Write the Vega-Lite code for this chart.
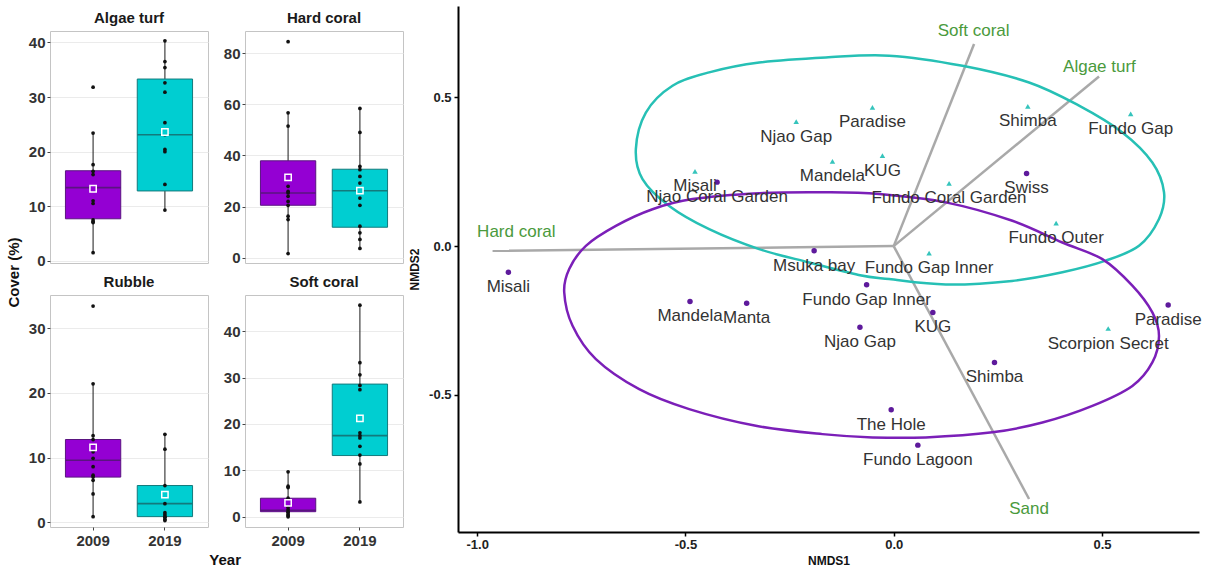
{
  "$schema": "https://vega.github.io/schema/vega-lite/v6.json",
  "background": "white",
  "padding": {"left": 6, "top": 6, "right": 6, "bottom": 2},
  "config": {
    "font": "Liberation Sans",
    "view": {"stroke": "#c4c4c4"}
  },
  "datasets": {
    "boxes": [
      {"cat": "Algae turf", "year": "2009", "lower": 1.5, "q1": 7.7, "median": 13.4, "q3": 16.5, "upper": 23.4, "mean": 13.2},
      {"cat": "Algae turf", "year": "2019", "lower": 9.3, "q1": 12.8, "median": 23.1, "q3": 33.3, "upper": 40.3, "mean": 23.6},
      {"cat": "Hard coral", "year": "2009", "lower": 1.6, "q1": 20.5, "median": 25.3, "q3": 37.9, "upper": 56.7, "mean": 31.4},
      {"cat": "Hard coral", "year": "2019", "lower": 3.6, "q1": 11.9, "median": 26.2, "q3": 34.6, "upper": 58.4, "mean": 26.2},
      {"cat": "Rubble", "year": "2009", "lower": 0.9, "q1": 7.0, "median": 9.6, "q3": 12.8, "upper": 21.4, "mean": 11.6},
      {"cat": "Rubble", "year": "2019", "lower": 0.5, "q1": 0.9, "median": 2.9, "q3": 5.7, "upper": 13.6, "mean": 4.3},
      {"cat": "Soft coral", "year": "2009", "lower": 0.0, "q1": 1.1, "median": 1.4, "q3": 4.0, "upper": 9.7, "mean": 3.0},
      {"cat": "Soft coral", "year": "2019", "lower": 3.2, "q1": 13.2, "median": 17.5, "q3": 28.6, "upper": 45.6, "mean": 21.2}
    ],
    "pts": [
      {"cat": "Algae turf", "year": "2009", "v": 31.8}, {"cat": "Algae turf", "year": "2009", "v": 23.4}, {"cat": "Algae turf", "year": "2009", "v": 17.6}, {"cat": "Algae turf", "year": "2009", "v": 16.4}, {"cat": "Algae turf", "year": "2009", "v": 15.8}, {"cat": "Algae turf", "year": "2009", "v": 13.4}, {"cat": "Algae turf", "year": "2009", "v": 13.0}, {"cat": "Algae turf", "year": "2009", "v": 11.0}, {"cat": "Algae turf", "year": "2009", "v": 10.5}, {"cat": "Algae turf", "year": "2009", "v": 7.5}, {"cat": "Algae turf", "year": "2009", "v": 7.2}, {"cat": "Algae turf", "year": "2009", "v": 7.0}, {"cat": "Algae turf", "year": "2009", "v": 1.5},
      {"cat": "Algae turf", "year": "2019", "v": 40.3}, {"cat": "Algae turf", "year": "2019", "v": 36.5}, {"cat": "Algae turf", "year": "2019", "v": 35.4}, {"cat": "Algae turf", "year": "2019", "v": 32.6}, {"cat": "Algae turf", "year": "2019", "v": 30.9}, {"cat": "Algae turf", "year": "2019", "v": 25.3}, {"cat": "Algae turf", "year": "2019", "v": 23.1}, {"cat": "Algae turf", "year": "2019", "v": 20.4}, {"cat": "Algae turf", "year": "2019", "v": 20.0}, {"cat": "Algae turf", "year": "2019", "v": 14.0}, {"cat": "Algae turf", "year": "2019", "v": 9.3},
      {"cat": "Hard coral", "year": "2009", "v": 84.5}, {"cat": "Hard coral", "year": "2009", "v": 56.7}, {"cat": "Hard coral", "year": "2009", "v": 51.5}, {"cat": "Hard coral", "year": "2009", "v": 32.0}, {"cat": "Hard coral", "year": "2009", "v": 27.9}, {"cat": "Hard coral", "year": "2009", "v": 25.9}, {"cat": "Hard coral", "year": "2009", "v": 25.3}, {"cat": "Hard coral", "year": "2009", "v": 24.0}, {"cat": "Hard coral", "year": "2009", "v": 22.0}, {"cat": "Hard coral", "year": "2009", "v": 20.5}, {"cat": "Hard coral", "year": "2009", "v": 16.2}, {"cat": "Hard coral", "year": "2009", "v": 14.9}, {"cat": "Hard coral", "year": "2009", "v": 1.6},
      {"cat": "Hard coral", "year": "2019", "v": 58.4}, {"cat": "Hard coral", "year": "2019", "v": 49.0}, {"cat": "Hard coral", "year": "2019", "v": 35.7}, {"cat": "Hard coral", "year": "2019", "v": 34.4}, {"cat": "Hard coral", "year": "2019", "v": 31.8}, {"cat": "Hard coral", "year": "2019", "v": 29.2}, {"cat": "Hard coral", "year": "2019", "v": 23.3}, {"cat": "Hard coral", "year": "2019", "v": 20.5}, {"cat": "Hard coral", "year": "2019", "v": 12.3}, {"cat": "Hard coral", "year": "2019", "v": 9.7}, {"cat": "Hard coral", "year": "2019", "v": 7.1}, {"cat": "Hard coral", "year": "2019", "v": 3.6},
      {"cat": "Rubble", "year": "2009", "v": 33.4}, {"cat": "Rubble", "year": "2009", "v": 21.4}, {"cat": "Rubble", "year": "2009", "v": 13.4}, {"cat": "Rubble", "year": "2009", "v": 12.8}, {"cat": "Rubble", "year": "2009", "v": 10.9}, {"cat": "Rubble", "year": "2009", "v": 9.9}, {"cat": "Rubble", "year": "2009", "v": 8.6}, {"cat": "Rubble", "year": "2009", "v": 7.3}, {"cat": "Rubble", "year": "2009", "v": 7.0}, {"cat": "Rubble", "year": "2009", "v": 6.5}, {"cat": "Rubble", "year": "2009", "v": 4.4}, {"cat": "Rubble", "year": "2009", "v": 0.9},
      {"cat": "Rubble", "year": "2019", "v": 13.6}, {"cat": "Rubble", "year": "2019", "v": 11.3}, {"cat": "Rubble", "year": "2019", "v": 5.7}, {"cat": "Rubble", "year": "2019", "v": 4.2}, {"cat": "Rubble", "year": "2019", "v": 2.9}, {"cat": "Rubble", "year": "2019", "v": 1.5}, {"cat": "Rubble", "year": "2019", "v": 1.2}, {"cat": "Rubble", "year": "2019", "v": 0.9}, {"cat": "Rubble", "year": "2019", "v": 0.8}, {"cat": "Rubble", "year": "2019", "v": 0.5}, {"cat": "Rubble", "year": "2019", "v": 0.3},
      {"cat": "Soft coral", "year": "2009", "v": 9.7}, {"cat": "Soft coral", "year": "2009", "v": 6.6}, {"cat": "Soft coral", "year": "2009", "v": 6.3}, {"cat": "Soft coral", "year": "2009", "v": 4.0}, {"cat": "Soft coral", "year": "2009", "v": 3.1}, {"cat": "Soft coral", "year": "2009", "v": 2.7}, {"cat": "Soft coral", "year": "2009", "v": 2.0}, {"cat": "Soft coral", "year": "2009", "v": 1.5}, {"cat": "Soft coral", "year": "2009", "v": 1.1}, {"cat": "Soft coral", "year": "2009", "v": 0.9}, {"cat": "Soft coral", "year": "2009", "v": 0.5}, {"cat": "Soft coral", "year": "2009", "v": 0.2}, {"cat": "Soft coral", "year": "2009", "v": 0.0},
      {"cat": "Soft coral", "year": "2019", "v": 45.6}, {"cat": "Soft coral", "year": "2019", "v": 33.2}, {"cat": "Soft coral", "year": "2019", "v": 30.6}, {"cat": "Soft coral", "year": "2019", "v": 28.3}, {"cat": "Soft coral", "year": "2019", "v": 27.4}, {"cat": "Soft coral", "year": "2019", "v": 18.1}, {"cat": "Soft coral", "year": "2019", "v": 17.5}, {"cat": "Soft coral", "year": "2019", "v": 17.0}, {"cat": "Soft coral", "year": "2019", "v": 15.2}, {"cat": "Soft coral", "year": "2019", "v": 13.3}, {"cat": "Soft coral", "year": "2019", "v": 11.4}, {"cat": "Soft coral", "year": "2019", "v": 3.2}
    ],
    "sites": [
      {"site": "Njao Gap", "year": "2019", "x": -0.234, "y": 0.418},
      {"site": "Paradise", "year": "2019", "x": -0.051, "y": 0.466},
      {"site": "Mandela", "year": "2019", "x": -0.147, "y": 0.285},
      {"site": "KUG", "year": "2019", "x": -0.027, "y": 0.304},
      {"site": "Misali", "year": "2019", "x": -0.477, "y": 0.251},
      {"site": "Fundo Coral Garden", "year": "2019", "x": 0.133, "y": 0.211},
      {"site": "Shimba", "year": "2019", "x": 0.322, "y": 0.470},
      {"site": "Fundo Gap", "year": "2019", "x": 0.569, "y": 0.444},
      {"site": "Fundo Outer", "year": "2019", "x": 0.390, "y": 0.077},
      {"site": "Fundo Gap Inner", "year": "2019", "x": 0.085, "y": -0.024},
      {"site": "Scorpion Secret", "year": "2019", "x": 0.515, "y": -0.277},
      {"site": "Njao Coral Garden", "year": "2009", "x": -0.424, "y": 0.215},
      {"site": "Swiss", "year": "2009", "x": 0.319, "y": 0.244},
      {"site": "Msuka bay", "year": "2009", "x": -0.191, "y": -0.016},
      {"site": "Misali", "year": "2009", "x": -0.925, "y": -0.088},
      {"site": "Mandela", "year": "2009", "x": -0.489, "y": -0.186},
      {"site": "Manta", "year": "2009", "x": -0.353, "y": -0.192},
      {"site": "Fundo Gap Inner", "year": "2009", "x": -0.065, "y": -0.130},
      {"site": "KUG", "year": "2009", "x": 0.094, "y": -0.223},
      {"site": "Njao Gap", "year": "2009", "x": -0.081, "y": -0.273},
      {"site": "Shimba", "year": "2009", "x": 0.242, "y": -0.391},
      {"site": "The Hole", "year": "2009", "x": -0.006, "y": -0.550},
      {"site": "Fundo Lagoon", "year": "2009", "x": 0.058, "y": -0.669},
      {"site": "Paradise", "year": "2009", "x": 0.659, "y": -0.198}
    ],
    "vec": [
      {"var": "Hard coral", "x0": 0, "y0": 0, "x": -0.963, "y": -0.016},
      {"var": "Soft coral", "x0": 0, "y0": 0, "x": 0.193, "y": 0.679},
      {"var": "Algae turf", "x0": 0, "y0": 0, "x": 0.493, "y": 0.570},
      {"var": "Sand", "x0": 0, "y0": 0, "x": 0.325, "y": -0.850}
    ],
    "vlab": [
      {"var": "Hard coral", "x": -0.906, "y": 0.048},
      {"var": "Soft coral", "x": 0.192, "y": 0.722},
      {"var": "Algae turf", "x": 0.494, "y": 0.601},
      {"var": "Sand", "x": 0.325, "y": -0.884}
    ],
    "ell": [
      {"g": "2019", "i": 1, "x": -0.619, "y": 0.326}, {"g": "2019", "i": 2, "x": -0.595, "y": 0.449}, {"g": "2019", "i": 3, "x": -0.531, "y": 0.539}, {"g": "2019", "i": 4, "x": -0.443, "y": 0.584}, {"g": "2019", "i": 5, "x": -0.323, "y": 0.617}, {"g": "2019", "i": 6, "x": -0.163, "y": 0.634}, {"g": "2019", "i": 7, "x": -0.011, "y": 0.640}, {"g": "2019", "i": 8, "x": 0.165, "y": 0.606}, {"g": "2019", "i": 9, "x": 0.325, "y": 0.550}, {"g": "2019", "i": 10, "x": 0.445, "y": 0.472}, {"g": "2019", "i": 11, "x": 0.549, "y": 0.382}, {"g": "2019", "i": 12, "x": 0.621, "y": 0.281}, {"g": "2019", "i": 13, "x": 0.649, "y": 0.181}, {"g": "2019", "i": 14, "x": 0.637, "y": 0.091}, {"g": "2019", "i": 15, "x": 0.589, "y": 0.001}, {"g": "2019", "i": 16, "x": 0.509, "y": -0.049}, {"g": "2019", "i": 17, "x": 0.405, "y": -0.088}, {"g": "2019", "i": 18, "x": 0.284, "y": -0.117}, {"g": "2019", "i": 19, "x": 0.125, "y": -0.129}, {"g": "2019", "i": 20, "x": -0.011, "y": -0.111}, {"g": "2019", "i": 21, "x": -0.084, "y": -0.097}, {"g": "2019", "i": 22, "x": -0.203, "y": -0.055}, {"g": "2019", "i": 23, "x": -0.323, "y": -0.010}, {"g": "2019", "i": 24, "x": -0.443, "y": 0.057}, {"g": "2019", "i": 25, "x": -0.539, "y": 0.135}, {"g": "2019", "i": 26, "x": -0.603, "y": 0.225},
      {"g": "2009", "i": 1, "x": -0.791, "y": -0.155}, {"g": "2009", "i": 2, "x": -0.771, "y": -0.268}, {"g": "2009", "i": 3, "x": -0.715, "y": -0.380}, {"g": "2009", "i": 4, "x": -0.611, "y": -0.481}, {"g": "2009", "i": 5, "x": -0.491, "y": -0.548}, {"g": "2009", "i": 6, "x": -0.331, "y": -0.604}, {"g": "2009", "i": 7, "x": -0.171, "y": -0.632}, {"g": "2009", "i": 8, "x": -0.051, "y": -0.643}, {"g": "2009", "i": 9, "x": 0.077, "y": -0.643}, {"g": "2009", "i": 10, "x": 0.237, "y": -0.626}, {"g": "2009", "i": 11, "x": 0.357, "y": -0.593}, {"g": "2009", "i": 12, "x": 0.477, "y": -0.537}, {"g": "2009", "i": 13, "x": 0.573, "y": -0.470}, {"g": "2009", "i": 14, "x": 0.621, "y": -0.391}, {"g": "2009", "i": 15, "x": 0.637, "y": -0.302}, {"g": "2009", "i": 16, "x": 0.621, "y": -0.223}, {"g": "2009", "i": 17, "x": 0.573, "y": -0.133}, {"g": "2009", "i": 18, "x": 0.501, "y": -0.044}, {"g": "2009", "i": 19, "x": 0.405, "y": 0.012}, {"g": "2009", "i": 20, "x": 0.285, "y": 0.085}, {"g": "2009", "i": 21, "x": 0.125, "y": 0.147}, {"g": "2009", "i": 22, "x": -0.035, "y": 0.175}, {"g": "2009", "i": 23, "x": -0.163, "y": 0.181}, {"g": "2009", "i": 24, "x": -0.323, "y": 0.178}, {"g": "2009", "i": 25, "x": -0.483, "y": 0.158}, {"g": "2009", "i": 26, "x": -0.579, "y": 0.124}, {"g": "2009", "i": 27, "x": -0.667, "y": 0.068}, {"g": "2009", "i": 28, "x": -0.739, "y": 0.001}, {"g": "2009", "i": 29, "x": -0.779, "y": -0.077}
    ]
  },
  "resolve": {"scale": {"x": "independent", "y": "independent", "color": "independent", "fill": "independent", "stroke": "independent", "shape": "independent"}},
  "spacing": 4,
  "hconcat": [
    {
      "title": {"text": "Year", "orient": "bottom", "anchor": "middle", "fontSize": 15, "fontWeight": "bold", "color": "#111", "offset": 4, "dx": 20},
      "spacing": 3,
      "resolve": {"scale": {"x": "independent", "y": "independent", "fill": "independent", "stroke": "independent"}},
      "vconcat": [
        {"width": 1, "height": 1, "view": {"stroke": null}, "data": {"values": []}, "mark": {"type": "point", "opacity": 0}},
        {
          "title": {"text": "Cover (%)", "orient": "left", "anchor": "middle", "fontSize": 15, "fontWeight": "bold", "color": "#111", "offset": 6, "dx": 7},
          "spacing": 4,
          "resolve": {"scale": {"x": "independent", "y": "independent", "fill": "independent", "stroke": "independent"}},
          "vconcat": [
            {
              "spacing": 13,
              "resolve": {"scale": {"x": "independent", "y": "independent", "fill": "independent", "stroke": "independent"}},
              "hconcat": [
                {
                  "width": 158, "height": 232,
                  "view": {"stroke": "#c4c4c4"},
                  "title": {"text": "Algae turf", "anchor": "middle", "fontSize": 15, "fontWeight": "bold", "color": "#1a1a1a", "offset": 5},
                  "layer": [
                    {"data": {"name": "boxes"}, "transform": [{"filter": "datum.cat == 'Algae turf'"}],
                     "mark": {"type": "rule", "color": "#1a1a1a", "strokeWidth": 1},
                     "encoding": {
                       "x": {"field": "year", "type": "nominal", "scale": {"type": "band", "domain": ["2009", "2019"], "paddingInner": 0.23, "paddingOuter": 0.215}, "axis": null},
                       "y": {"field": "lower", "type": "quantitative", "scale": {"domain": [-0.4, 42.1], "nice": false, "zero": false},
                             "axis": {"values": [0, 10, 20, 30, 40], "grid": true, "gridColor": "#ebebeb", "domain": false, "tickColor": "#444", "tickSize": 3, "labelFontSize": 15, "labelFontWeight": "bold", "labelColor": "#333", "labelPadding": 2, "title": null}},
                       "y2": {"field": "upper"}}},
                    {"data": {"name": "boxes"}, "transform": [{"filter": "datum.cat == 'Algae turf'"}],
                     "mark": {"type": "bar", "strokeWidth": 1},
                     "encoding": {
                       "x": {"field": "year", "type": "nominal", "scale": {"type": "band", "domain": ["2009", "2019"], "paddingInner": 0.23, "paddingOuter": 0.215}, "axis": null},
                       "y": {"field": "q1", "type": "quantitative", "scale": {"domain": [-0.4, 42.1], "nice": false, "zero": false}},
                       "y2": {"field": "q3"},
                       "fill": {"field": "year", "type": "nominal", "scale": {"domain": ["2009", "2019"], "range": ["#9400d3", "#00ced1"]}, "legend": null},
                       "stroke": {"field": "year", "type": "nominal", "scale": {"domain": ["2009", "2019"], "range": ["#5a1480", "#137a7c"]}, "legend": null}}},
                    {"data": {"name": "boxes"}, "transform": [{"filter": "datum.cat == 'Algae turf'"}],
                     "mark": {"type": "bar", "strokeWidth": 1.6, "fillOpacity": 0},
                     "encoding": {
                       "x": {"field": "year", "type": "nominal", "scale": {"type": "band", "domain": ["2009", "2019"], "paddingInner": 0.23, "paddingOuter": 0.215}, "axis": null},
                       "y": {"field": "median", "type": "quantitative", "scale": {"domain": [-0.4, 42.1], "nice": false, "zero": false}},
                       "y2": {"field": "median"},
                       "stroke": {"field": "year", "type": "nominal", "scale": {"domain": ["2009", "2019"], "range": ["#5a1480", "#137a7c"]}, "legend": null}}},
                    {"data": {"name": "pts"}, "transform": [{"filter": "datum.cat == 'Algae turf'"}],
                     "mark": {"type": "circle", "size": 14, "color": "#111", "opacity": 1},
                     "encoding": {
                       "x": {"field": "year", "type": "nominal", "scale": {"type": "band", "domain": ["2009", "2019"], "paddingInner": 0.23, "paddingOuter": 0.215}, "axis": null},
                       "y": {"field": "v", "type": "quantitative", "scale": {"domain": [-0.4, 42.1], "nice": false, "zero": false}}}},
                    {"data": {"name": "boxes"}, "transform": [{"filter": "datum.cat == 'Algae turf'"}],
                     "mark": {"type": "point", "shape": "square", "filled": true, "size": 40, "stroke": "white", "strokeWidth": 1.5, "opacity": 1},
                     "encoding": {
                       "x": {"field": "year", "type": "nominal", "scale": {"type": "band", "domain": ["2009", "2019"], "paddingInner": 0.23, "paddingOuter": 0.215}, "axis": null},
                       "y": {"field": "mean", "type": "quantitative", "scale": {"domain": [-0.4, 42.1], "nice": false, "zero": false}},
                       "fill": {"field": "year", "type": "nominal", "scale": {"domain": ["2009", "2019"], "range": ["#9400d3", "#00ced1"]}, "legend": null}}}
                  ]
                },
                {
                  "width": 158, "height": 232,
                  "view": {"stroke": "#c4c4c4"},
                  "title": {"text": "Hard coral", "anchor": "middle", "fontSize": 15, "fontWeight": "bold", "color": "#1a1a1a", "offset": 5},
                  "layer": [
                    {"data": {"name": "boxes"}, "transform": [{"filter": "datum.cat == 'Hard coral'"}],
                     "mark": {"type": "rule", "color": "#1a1a1a", "strokeWidth": 1},
                     "encoding": {
                       "x": {"field": "year", "type": "nominal", "scale": {"type": "band", "domain": ["2009", "2019"], "paddingInner": 0.23, "paddingOuter": 0.215}, "axis": null},
                       "y": {"field": "lower", "type": "quantitative", "scale": {"domain": [-2.1, 88.7], "nice": false, "zero": false},
                             "axis": {"values": [0, 20, 40, 60, 80], "grid": true, "gridColor": "#ebebeb", "domain": false, "tickColor": "#444", "tickSize": 3, "labelFontSize": 15, "labelFontWeight": "bold", "labelColor": "#333", "labelPadding": 2, "title": null}},
                       "y2": {"field": "upper"}}},
                    {"data": {"name": "boxes"}, "transform": [{"filter": "datum.cat == 'Hard coral'"}],
                     "mark": {"type": "bar", "strokeWidth": 1},
                     "encoding": {
                       "x": {"field": "year", "type": "nominal", "scale": {"type": "band", "domain": ["2009", "2019"], "paddingInner": 0.23, "paddingOuter": 0.215}, "axis": null},
                       "y": {"field": "q1", "type": "quantitative", "scale": {"domain": [-2.1, 88.7], "nice": false, "zero": false}},
                       "y2": {"field": "q3"},
                       "fill": {"field": "year", "type": "nominal", "scale": {"domain": ["2009", "2019"], "range": ["#9400d3", "#00ced1"]}, "legend": null},
                       "stroke": {"field": "year", "type": "nominal", "scale": {"domain": ["2009", "2019"], "range": ["#5a1480", "#137a7c"]}, "legend": null}}},
                    {"data": {"name": "boxes"}, "transform": [{"filter": "datum.cat == 'Hard coral'"}],
                     "mark": {"type": "bar", "strokeWidth": 1.6, "fillOpacity": 0},
                     "encoding": {
                       "x": {"field": "year", "type": "nominal", "scale": {"type": "band", "domain": ["2009", "2019"], "paddingInner": 0.23, "paddingOuter": 0.215}, "axis": null},
                       "y": {"field": "median", "type": "quantitative", "scale": {"domain": [-2.1, 88.7], "nice": false, "zero": false}},
                       "y2": {"field": "median"},
                       "stroke": {"field": "year", "type": "nominal", "scale": {"domain": ["2009", "2019"], "range": ["#5a1480", "#137a7c"]}, "legend": null}}},
                    {"data": {"name": "pts"}, "transform": [{"filter": "datum.cat == 'Hard coral'"}],
                     "mark": {"type": "circle", "size": 14, "color": "#111", "opacity": 1},
                     "encoding": {
                       "x": {"field": "year", "type": "nominal", "scale": {"type": "band", "domain": ["2009", "2019"], "paddingInner": 0.23, "paddingOuter": 0.215}, "axis": null},
                       "y": {"field": "v", "type": "quantitative", "scale": {"domain": [-2.1, 88.7], "nice": false, "zero": false}}}},
                    {"data": {"name": "boxes"}, "transform": [{"filter": "datum.cat == 'Hard coral'"}],
                     "mark": {"type": "point", "shape": "square", "filled": true, "size": 40, "stroke": "white", "strokeWidth": 1.5, "opacity": 1},
                     "encoding": {
                       "x": {"field": "year", "type": "nominal", "scale": {"type": "band", "domain": ["2009", "2019"], "paddingInner": 0.23, "paddingOuter": 0.215}, "axis": null},
                       "y": {"field": "mean", "type": "quantitative", "scale": {"domain": [-2.1, 88.7], "nice": false, "zero": false}},
                       "fill": {"field": "year", "type": "nominal", "scale": {"domain": ["2009", "2019"], "range": ["#9400d3", "#00ced1"]}, "legend": null}}}
                  ]
                }
              ]
            },
            {
              "spacing": 13,
              "resolve": {"scale": {"x": "independent", "y": "independent", "fill": "independent", "stroke": "independent"}},
              "hconcat": [
                {
                  "width": 158, "height": 232,
                  "view": {"stroke": "#c4c4c4"},
                  "title": {"text": "Rubble", "anchor": "middle", "fontSize": 15, "fontWeight": "bold", "color": "#1a1a1a", "offset": 5},
                  "layer": [
                    {"data": {"name": "boxes"}, "transform": [{"filter": "datum.cat == 'Rubble'"}],
                     "mark": {"type": "rule", "color": "#1a1a1a", "strokeWidth": 1},
                     "encoding": {
                       "x": {"field": "year", "type": "nominal", "scale": {"type": "band", "domain": ["2009", "2019"], "paddingInner": 0.23, "paddingOuter": 0.215},
                             "axis": {"title": null, "labelAngle": 0, "labelFontSize": 15, "labelFontWeight": "bold", "labelColor": "#333", "domain": false, "tickColor": "#444", "tickSize": 3, "labelPadding": 3}},
                       "y": {"field": "lower", "type": "quantitative", "scale": {"domain": [-0.7, 35.1], "nice": false, "zero": false},
                             "axis": {"values": [0, 10, 20, 30], "grid": true, "gridColor": "#ebebeb", "domain": false, "tickColor": "#444", "tickSize": 3, "labelFontSize": 15, "labelFontWeight": "bold", "labelColor": "#333", "labelPadding": 2, "title": null}},
                       "y2": {"field": "upper"}}},
                    {"data": {"name": "boxes"}, "transform": [{"filter": "datum.cat == 'Rubble'"}],
                     "mark": {"type": "bar", "strokeWidth": 1},
                     "encoding": {
                       "x": {"field": "year", "type": "nominal", "scale": {"type": "band", "domain": ["2009", "2019"], "paddingInner": 0.23, "paddingOuter": 0.215}},
                       "y": {"field": "q1", "type": "quantitative", "scale": {"domain": [-0.7, 35.1], "nice": false, "zero": false}},
                       "y2": {"field": "q3"},
                       "fill": {"field": "year", "type": "nominal", "scale": {"domain": ["2009", "2019"], "range": ["#9400d3", "#00ced1"]}, "legend": null},
                       "stroke": {"field": "year", "type": "nominal", "scale": {"domain": ["2009", "2019"], "range": ["#5a1480", "#137a7c"]}, "legend": null}}},
                    {"data": {"name": "boxes"}, "transform": [{"filter": "datum.cat == 'Rubble'"}],
                     "mark": {"type": "bar", "strokeWidth": 1.6, "fillOpacity": 0},
                     "encoding": {
                       "x": {"field": "year", "type": "nominal", "scale": {"type": "band", "domain": ["2009", "2019"], "paddingInner": 0.23, "paddingOuter": 0.215}},
                       "y": {"field": "median", "type": "quantitative", "scale": {"domain": [-0.7, 35.1], "nice": false, "zero": false}},
                       "y2": {"field": "median"},
                       "stroke": {"field": "year", "type": "nominal", "scale": {"domain": ["2009", "2019"], "range": ["#5a1480", "#137a7c"]}, "legend": null}}},
                    {"data": {"name": "pts"}, "transform": [{"filter": "datum.cat == 'Rubble'"}],
                     "mark": {"type": "circle", "size": 14, "color": "#111", "opacity": 1},
                     "encoding": {
                       "x": {"field": "year", "type": "nominal", "scale": {"type": "band", "domain": ["2009", "2019"], "paddingInner": 0.23, "paddingOuter": 0.215}},
                       "y": {"field": "v", "type": "quantitative", "scale": {"domain": [-0.7, 35.1], "nice": false, "zero": false}}}},
                    {"data": {"name": "boxes"}, "transform": [{"filter": "datum.cat == 'Rubble'"}],
                     "mark": {"type": "point", "shape": "square", "filled": true, "size": 40, "stroke": "white", "strokeWidth": 1.5, "opacity": 1},
                     "encoding": {
                       "x": {"field": "year", "type": "nominal", "scale": {"type": "band", "domain": ["2009", "2019"], "paddingInner": 0.23, "paddingOuter": 0.215}},
                       "y": {"field": "mean", "type": "quantitative", "scale": {"domain": [-0.7, 35.1], "nice": false, "zero": false}},
                       "fill": {"field": "year", "type": "nominal", "scale": {"domain": ["2009", "2019"], "range": ["#9400d3", "#00ced1"]}, "legend": null}}}
                  ]
                },
                {
                  "width": 158, "height": 232,
                  "view": {"stroke": "#c4c4c4"},
                  "title": {"text": "Soft coral", "anchor": "middle", "fontSize": 15, "fontWeight": "bold", "color": "#1a1a1a", "offset": 5},
                  "layer": [
                    {"data": {"name": "boxes"}, "transform": [{"filter": "datum.cat == 'Soft coral'"}],
                     "mark": {"type": "rule", "color": "#1a1a1a", "strokeWidth": 1},
                     "encoding": {
                       "x": {"field": "year", "type": "nominal", "scale": {"type": "band", "domain": ["2009", "2019"], "paddingInner": 0.23, "paddingOuter": 0.215},
                             "axis": {"title": null, "labelAngle": 0, "labelFontSize": 15, "labelFontWeight": "bold", "labelColor": "#333", "domain": false, "tickColor": "#444", "tickSize": 3, "labelPadding": 3}},
                       "y": {"field": "lower", "type": "quantitative", "scale": {"domain": [-2.2, 47.8], "nice": false, "zero": false},
                             "axis": {"values": [0, 10, 20, 30, 40], "grid": true, "gridColor": "#ebebeb", "domain": false, "tickColor": "#444", "tickSize": 3, "labelFontSize": 15, "labelFontWeight": "bold", "labelColor": "#333", "labelPadding": 2, "title": null}},
                       "y2": {"field": "upper"}}},
                    {"data": {"name": "boxes"}, "transform": [{"filter": "datum.cat == 'Soft coral'"}],
                     "mark": {"type": "bar", "strokeWidth": 1},
                     "encoding": {
                       "x": {"field": "year", "type": "nominal", "scale": {"type": "band", "domain": ["2009", "2019"], "paddingInner": 0.23, "paddingOuter": 0.215}},
                       "y": {"field": "q1", "type": "quantitative", "scale": {"domain": [-2.2, 47.8], "nice": false, "zero": false}},
                       "y2": {"field": "q3"},
                       "fill": {"field": "year", "type": "nominal", "scale": {"domain": ["2009", "2019"], "range": ["#9400d3", "#00ced1"]}, "legend": null},
                       "stroke": {"field": "year", "type": "nominal", "scale": {"domain": ["2009", "2019"], "range": ["#5a1480", "#137a7c"]}, "legend": null}}},
                    {"data": {"name": "boxes"}, "transform": [{"filter": "datum.cat == 'Soft coral'"}],
                     "mark": {"type": "bar", "strokeWidth": 1.6, "fillOpacity": 0},
                     "encoding": {
                       "x": {"field": "year", "type": "nominal", "scale": {"type": "band", "domain": ["2009", "2019"], "paddingInner": 0.23, "paddingOuter": 0.215}},
                       "y": {"field": "median", "type": "quantitative", "scale": {"domain": [-2.2, 47.8], "nice": false, "zero": false}},
                       "y2": {"field": "median"},
                       "stroke": {"field": "year", "type": "nominal", "scale": {"domain": ["2009", "2019"], "range": ["#5a1480", "#137a7c"]}, "legend": null}}},
                    {"data": {"name": "pts"}, "transform": [{"filter": "datum.cat == 'Soft coral'"}],
                     "mark": {"type": "circle", "size": 14, "color": "#111", "opacity": 1},
                     "encoding": {
                       "x": {"field": "year", "type": "nominal", "scale": {"type": "band", "domain": ["2009", "2019"], "paddingInner": 0.23, "paddingOuter": 0.215}},
                       "y": {"field": "v", "type": "quantitative", "scale": {"domain": [-2.2, 47.8], "nice": false, "zero": false}}}},
                    {"data": {"name": "boxes"}, "transform": [{"filter": "datum.cat == 'Soft coral'"}],
                     "mark": {"type": "point", "shape": "square", "filled": true, "size": 40, "stroke": "white", "strokeWidth": 1.5, "opacity": 1},
                     "encoding": {
                       "x": {"field": "year", "type": "nominal", "scale": {"type": "band", "domain": ["2009", "2019"], "paddingInner": 0.23, "paddingOuter": 0.215}},
                       "y": {"field": "mean", "type": "quantitative", "scale": {"domain": [-2.2, 47.8], "nice": false, "zero": false}},
                       "fill": {"field": "year", "type": "nominal", "scale": {"domain": ["2009", "2019"], "range": ["#9400d3", "#00ced1"]}, "legend": null}}}
                  ]
                }
              ]
            }
          ]
        }
      ]
    },
    {
      "width": 741, "height": 526,
      "view": {"stroke": null},
      "layer": [
        {"data": {"name": "vec"},
         "mark": {"type": "rule", "color": "#a9a9a9", "strokeWidth": 2.5},
         "encoding": {
           "x": {"field": "x0", "type": "quantitative", "scale": {"domain": [-1.046, 0.733], "nice": false, "zero": false},
                 "axis": {"values": [-1, -0.5, 0, 0.5], "labelExpr": "replace(format(datum.value, '.1f'), '\u2212', '-')", "title": "NMDS1", "grid": false, "domainColor": "#000", "domainWidth": 2, "tickColor": "#000", "tickWidth": 1.5, "tickSize": 4, "labelFontSize": 13, "labelFontWeight": "bold", "labelColor": "#222", "labelPadding": 2, "titleFontSize": 12, "titleFontWeight": "bold", "titleColor": "#111", "titlePadding": 4}},
           "y": {"field": "y0", "type": "quantitative", "scale": {"domain": [-0.961, 0.807], "nice": false, "zero": false},
                 "axis": {"values": [-0.5, 0, 0.5], "labelExpr": "replace(format(datum.value, '.1f'), '\u2212', '-')", "title": "NMDS2", "grid": false, "domainColor": "#000", "domainWidth": 2, "tickColor": "#000", "tickWidth": 1.5, "tickSize": 4, "labelFontSize": 13, "labelFontWeight": "bold", "labelColor": "#222", "labelPadding": 3, "titleFontSize": 12, "titleFontWeight": "bold", "titleColor": "#111", "titlePadding": 7}},
           "x2": {"field": "x"},
           "y2": {"field": "y"}}},
        {"data": {"name": "ell"},
         "mark": {"type": "line", "interpolate": "cardinal-closed", "strokeWidth": 2.5},
         "encoding": {
           "x": {"field": "x", "type": "quantitative", "scale": {"domain": [-1.046, 0.733], "nice": false, "zero": false}},
           "y": {"field": "y", "type": "quantitative", "scale": {"domain": [-0.961, 0.807], "nice": false, "zero": false}},
           "order": {"field": "i", "type": "quantitative"},
           "stroke": {"field": "g", "type": "nominal", "scale": {"domain": ["2009", "2019"], "range": ["#7b1fb8", "#26c0b5"]}, "legend": null}}},
        {"data": {"name": "sites"},
         "mark": {"type": "point", "filled": true, "size": 30, "opacity": 1},
         "encoding": {
           "x": {"field": "x", "type": "quantitative", "scale": {"domain": [-1.046, 0.733], "nice": false, "zero": false}},
           "y": {"field": "y", "type": "quantitative", "scale": {"domain": [-0.961, 0.807], "nice": false, "zero": false}},
           "shape": {"field": "year", "type": "nominal", "scale": {"domain": ["2009", "2019"], "range": ["circle", "triangle-up"]}, "legend": null},
           "fill": {"field": "year", "type": "nominal", "scale": {"domain": ["2009", "2019"], "range": ["#5e1a9c", "#35c4bc"]}, "legend": null}}},
        {"data": {"name": "sites"},
         "mark": {"type": "text", "dy": 15, "fontSize": 17, "color": "#333"},
         "encoding": {
           "x": {"field": "x", "type": "quantitative", "scale": {"domain": [-1.046, 0.733], "nice": false, "zero": false}},
           "y": {"field": "y", "type": "quantitative", "scale": {"domain": [-0.961, 0.807], "nice": false, "zero": false}},
           "text": {"field": "site"}}},
        {"data": {"name": "vlab"},
         "mark": {"type": "text", "fontSize": 17, "color": "#4a9a3c"},
         "encoding": {
           "x": {"field": "x", "type": "quantitative", "scale": {"domain": [-1.046, 0.733], "nice": false, "zero": false}},
           "y": {"field": "y", "type": "quantitative", "scale": {"domain": [-0.961, 0.807], "nice": false, "zero": false}},
           "text": {"field": "var"}}}
      ]
    }
  ]
}
